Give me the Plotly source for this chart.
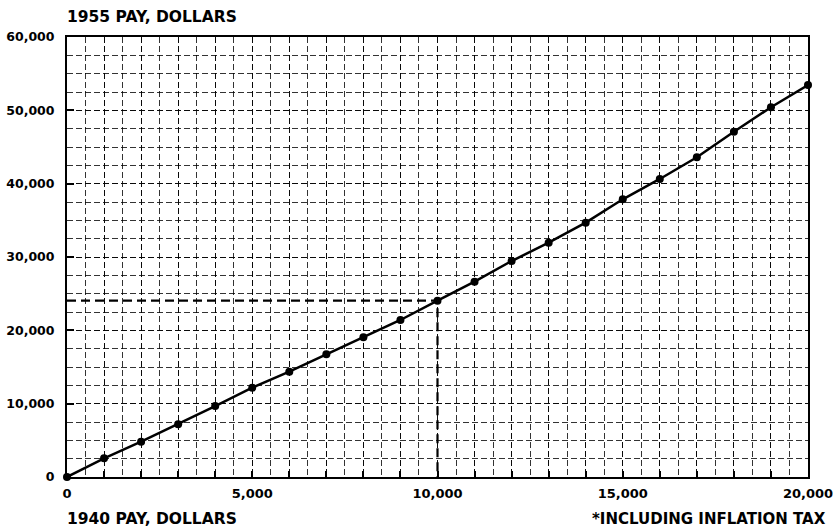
import plotly.graph_objects as go

# 1940 pay (dollars) and equivalent 1955 pay (dollars, including inflation tax)
pay_1940 = [0, 1000, 2000, 3000, 4000, 5000, 6000, 7000, 8000, 9000, 10000,
            11000, 12000, 13000, 14000, 15000, 16000, 17000, 18000, 19000, 20000]
pay_1955 = [0, 2550, 4810, 7190, 9680, 12180, 14360, 16730, 19050, 21410, 24040,
            26630, 29450, 31950, 34680, 37870, 40640, 43600, 47090, 50420, 53460]

# highlighted example: 1940 pay of 10,000
ref_1940 = 10000
ref_1955 = pay_1955[pay_1940.index(ref_1940)]

x_tickvals = list(range(0, 20001, 1000))
x_ticktext = [f"{v:,}" if v % 5000 == 0 else "" for v in x_tickvals]
y_tickvals = [0, 10000, 20000, 30000, 40000, 50000, 60000]
y_ticktext = ["0", "10,000", "20,000", "30,000", "40,000", "50,000", "60,000"]

FONT = "DejaVu Sans"
grid_color = "rgba(0,0,0,0.8)"

fig = go.Figure()

fig.add_trace(go.Scatter(
    x=[0, ref_1940, ref_1940], y=[ref_1955, ref_1955, 0],
    mode="lines", line=dict(color="black", width=2.2, dash="9px,5px"),
    hoverinfo="skip", showlegend=False))

fig.add_trace(go.Scatter(
    x=pay_1940, y=pay_1955, mode="lines+markers",
    line=dict(color="black", width=2.5),
    marker=dict(color="black", size=8),
    showlegend=False, cliponaxis=False))

fig.update_xaxes(
    range=[0, 20000], tickmode="array", tickvals=x_tickvals, ticktext=x_ticktext,
    ticks="inside", ticklen=6, tickwidth=2, tickcolor="black",
    showline=True, linecolor="black", linewidth=2, mirror=True,
    showgrid=True, gridcolor=grid_color, gridwidth=1, griddash="6px,3px",
    minor=dict(dtick=500, tick0=0, showgrid=True, gridcolor=grid_color,
               gridwidth=1, griddash="6px,3px", ticks=""),
    zeroline=False, ticklabelstandoff=3, automargin=False,
    ticklabeloverflow="allow",
    tickfont=dict(family=FONT, size=13, color="black", weight="bold"))

fig.update_yaxes(
    range=[0, 60000], tickmode="array", tickvals=y_tickvals, ticktext=y_ticktext,
    ticks="inside", ticklen=7, tickwidth=2, tickcolor="black",
    showline=True, linecolor="black", linewidth=2, mirror=True,
    showgrid=True, gridcolor=grid_color, gridwidth=1, griddash="6px,3px",
    minor=dict(dtick=2500, tick0=0, showgrid=True, gridcolor=grid_color,
               gridwidth=1, griddash="6px,3px", ticks=""),
    zeroline=False, ticklabelstandoff=8, automargin=False,
    ticklabeloverflow="allow",
    tickfont=dict(family=FONT, size=12.5, color="black", weight="bold"))

fig.add_annotation(text="1955 PAY, DOLLARS", xref="paper", yref="paper",
                   x=0, y=1, xanchor="left", yanchor="middle", yshift=20, xshift=-2,
                   showarrow=False,
                   font=dict(family=FONT, size=15.5, color="black", weight="bold"))
fig.add_annotation(text="1940 PAY, DOLLARS", xref="paper", yref="paper",
                   x=0, y=0, xanchor="left", yanchor="middle", yshift=-42, xshift=-2,
                   showarrow=False,
                   font=dict(family=FONT, size=15.5, color="black", weight="bold"))
fig.add_annotation(text="*INCLUDING INFLATION TAX", xref="paper", yref="paper",
                   x=1, y=0, xanchor="right", yanchor="middle", yshift=-42, xshift=20,
                   showarrow=False,
                   font=dict(family=FONT, size=15, color="black", weight="bold"))

fig.update_layout(
    width=833, height=527,
    margin=dict(l=67, r=25, t=37, b=50),
    paper_bgcolor="white", plot_bgcolor="white",
    showlegend=False)

fig.write_html(
    "out.html",
    config={"displayModeBar": False},
    post_script="document.body.style.margin='0';document.body.style.overflow='hidden';")
